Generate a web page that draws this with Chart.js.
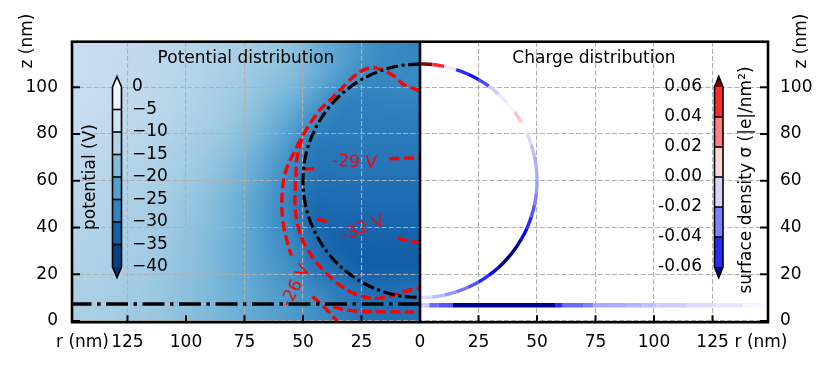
<!DOCTYPE html>
<html lang="en">
<head>
<meta charset="UTF-8">
<title>Potential and charge distribution</title>
<script src="https://cdn.jsdelivr.net/npm/chart.js"></script>
<style>
  body { margin: 0; background: #fff; }
  canvas { display: block; }
</style>
</head>
<body>
<canvas id="chart" width="830" height="369"></canvas>
<script>
// ---------------- data ----------------
// axis ticks (left half of the x axis is r mirrored: x = -r)
const rTicks = [-125, -100, -75, -50, -25, 0, 25, 50, 75, 100, 125];
const zTicks = [0, 20, 40, 60, 80, 100];

// potential map (V), 10 nm cells: columns r = 5..145, rows z = 115 (top) .. 5 (bottom)
const potR = [5, 15, 25, 35, 45, 55, 65, 75, 85, 95, 105, 115, 125, 135, 145];
const potZ = [115, 105, 95, 85, 75, 65, 55, 45, 35, 25, 15, 5];
const potential = [
  [-27.0, -26.0, -24.5, -22.0, -19.5, -16.5, -15.2, -13.9, -13.0, -12.2, -11.4, -10.8, -10.3, -9.9, -9.6],
  [-26.0, -26.5, -25.8, -23.0, -20.0, -17.5, -16.2, -14.7, -13.5, -12.5, -11.6, -11.0, -10.5, -10.0, -9.7],
  [-27.5, -27.5, -27.8, -27.0, -23.0, -19.5, -17.4, -15.5, -14.0, -12.8, -11.9, -11.1, -10.6, -10.1, -9.8],
  [-28.3, -28.3, -28.3, -28.3, -26.3, -22.0, -18.9, -16.5, -14.7, -13.4, -12.3, -11.4, -10.8, -10.4, -10.0],
  [-28.8, -28.8, -28.8, -28.8, -28.8, -24.5, -20.8, -17.9, -15.9, -14.3, -13.1, -12.2, -11.5, -10.9, -10.5],
  [-29.5, -29.5, -29.5, -29.5, -29.5, -26.5, -22.5, -19.2, -16.9, -15.2, -13.9, -12.8, -12.1, -11.5, -11.0],
  [-30.5, -30.5, -30.5, -30.5, -30.5, -27.5, -23.5, -20.2, -17.7, -16.0, -14.5, -13.4, -12.7, -12.1, -11.4],
  [-31.5, -31.5, -31.5, -31.5, -31.5, -27.5, -24.0, -20.7, -18.3, -16.5, -15.1, -14.0, -13.1, -12.5, -11.9],
  [-32.3, -32.3, -32.3, -32.3, -30.0, -26.7, -23.9, -20.9, -18.7, -17.0, -15.5, -14.4, -13.6, -13.0, -12.4],
  [-33.0, -33.0, -33.0, -31.0, -29.5, -25.5, -23.4, -20.9, -18.9, -17.2, -15.9, -14.8, -14.0, -13.3, -12.7],
  [-30.0, -30.5, -30.0, -28.5, -26.5, -24.5, -22.7, -20.6, -18.9, -17.4, -16.2, -15.2, -14.4, -13.6, -13.1],
  [-30.0, -30.0, -29.5, -27.5, -25.0, -23.5, -21.9, -20.2, -18.8, -17.5, -16.3, -15.3, -14.6, -13.9, -13.4]
];

// sphere outline (r, z in nm)
const sphereR = [0, 8.68, 17.1, 25, 32.14, 38.3, 43.3, 46.98, 49.24, 50, 49.24, 46.98, 43.3, 38.3, 32.14, 25, 17.1, 8.68, 0];
const sphereZ = [110, 109.24, 106.98, 103.3, 98.3, 92.14, 85, 77.1, 68.68, 60, 51.32, 42.9, 35, 27.86, 21.7, 16.7, 13.02, 10.76, 10];
const substrateR = [0, 150];
const substrateZ = [7.3, 7.3];

// potential contours (r, z)
const c26aR = [0, 4, 7.3, 10, 13.7, 17, 21, 25, 29, 34, 39, 43, 48.7, 53.4, 57.7, 59, 58.5, 56.5, 55];
const c26aZ = [98.5, 100, 101.3, 104, 106.3, 107.8, 108.3, 107, 104, 99, 94, 90, 81.7, 73, 63, 52, 42, 33, 28];
const c26bR = [46, 42.7, 39, 35.5];
const c26bZ = [10.5, 7.7, 4, 0];
const c29oR = [50.5, 52.5, 53, 53.4, 52, 48.7, 41.4, 31.2, 21.4, 14, 7, 0];
const c29oZ = [78, 70, 62, 50, 40, 31.7, 21.8, 13.3, 9.8, 10.3, 12.5, 14.3];
const c29bR = [37, 32, 25, 15, 0];
const c29bZ = [6, 4.8, 4.2, 3.9, 3.8];
const c29aR = [49.5, 43.5];
const c29aZ = [65, 65.2];
const c29cR = [13, 6, 0];
const c29cZ = [69.4, 69.7, 69.8];
const c32aR = [44, 38.5];
const c32aZ = [43.6, 42.3];
const c32bR = [9.4, 5, 0];
const c32bZ = [35.5, 34.3, 33.5];
const contourLabels = [
  { text: '-29 V', r: 28, z: 67.8, rot: 3 },
  { text: '-32 V', r: 24.4, z: 39.6, rot: -22 },
  { text: '-26 V', r: 53, z: 15, rot: -63 }
];

// surface charge on the sphere (r, z, sigma in |e|/nm^2)
const arcR = [0, 5.23, 10.4, 15.45, 20.34, 25, 29.39, 33.46, 37.16, 40.45, 43.3, 45.68, 47.55, 48.91, 49.73, 50,
  49.73, 48.91, 47.55, 45.68, 43.3, 40.45, 37.16, 33.46, 29.39, 25, 20.34, 15.45, 10.4, 5.23, 0];
const arcZ = [110, 109.73, 108.91, 107.55, 105.68, 103.3, 100.45, 97.16, 93.46, 89.39, 85, 80.34, 75.45, 70.4, 65.23, 60,
  54.77, 49.6, 44.55, 39.66, 35, 30.61, 26.54, 22.84, 19.55, 16.7, 14.32, 12.45, 11.09, 10.27, 10];
const arcSigma = [0.08, 0.07, 0.03, -0.04, -0.06, -0.055, -0.03, 0.005, -0.015, 0.02, 0.008, -0.005, -0.012, -0.018, -0.02, -0.02,
  -0.025, -0.035, -0.045, -0.055, -0.065, -0.07, -0.07, -0.065, -0.055, -0.045, -0.035, -0.03, -0.02, -0.012, -0.005];

// surface charge on the substrate
const stripR = [0, 4, 8, 14, 17, 25, 35, 45, 55, 58, 61, 65, 70, 74, 80, 88, 95, 101, 108, 114, 125, 138, 148];
const stripZ = 6.8;
const stripSigma = [-0.012, -0.035, -0.04, -0.065, -0.07, -0.07, -0.07, -0.07, -0.065, -0.05, -0.035, -0.035, -0.03, -0.02, -0.02,
  -0.018, -0.015, -0.012, -0.012, -0.008, -0.006, -0.002, 0];

// colorbars
const potLevels = [0, -5, -10, -15, -20, -25, -30, -35, -40];
const sigmaLevels = [0.06, 0.04, 0.02, 0.00, -0.02, -0.04, -0.06];

// ---------------- colour maps ----------------
const bluesHex = ['#f7fbff', '#deebf7', '#c6dbef', '#9ecae1', '#6baed6', '#4292c6', '#2171b5', '#08519c', '#08306b'];
const bluesRgb = bluesHex.map(h => [1, 3, 5].map(i => parseInt(h.slice(i, i + 2), 16)));
function bluesAt(t) {
  t = Math.min(1, Math.max(0, t));
  const p = t * 8, i = Math.min(7, Math.floor(p)), f = p - i;
  const a = bluesRgb[i], b = bluesRgb[i + 1];
  return [0, 1, 2].map(k => Math.round(a[k] + (b[k] - a[k]) * f));
}
function sigmaColor(s) {
  if (s > 0.06) return '#8b0000';
  if (s < -0.06) return '#00008b';
  const t = (s + 0.06) / 0.12;
  if (t < 0.5) { const f = Math.round(255 * t / 0.5); return `rgb(${f},${f},255)`; }
  const f = Math.round(255 * (1 - t) / 0.5);
  return `rgb(255,${f},${f})`;
}

// ---------------- datasets ----------------
const toXY = (rs, zs, sign) => rs.map((r, i) => ({ x: sign * r, y: zs[i] }));
function contour(rs, zs) {
  return { data: toXY(rs, zs, -1), borderColor: '#ff0000', borderWidth: 3.4, borderDash: [10, 4.3],
    pointRadius: 0, tension: 0.35, fill: false, borderCapStyle: 'butt' };
}

const datasets = [
  { data: toXY(sphereR, sphereZ, -1), borderColor: '#000', borderWidth: 3.2, borderDash: [12, 3.5, 3, 3.5],
    pointRadius: 0, tension: 0.35, fill: false },
  { data: toXY(substrateR, substrateZ, -1), borderColor: '#000', borderWidth: 3.5, borderDash: [22, 5.5, 3.5, 5.5],
    pointRadius: 0, fill: false, borderCapStyle: 'butt' },
  contour(c26aR, c26aZ), contour(c26bR, c26bZ),
  contour(c29oR, c29oZ), contour(c29bR, c29bZ), contour(c29aR, c29aZ), contour(c29cR, c29cZ),
  contour(c32aR, c32aZ), contour(c32bR, c32bZ),
  { data: toXY(arcR, arcZ, 1), borderWidth: 3.4, pointRadius: 0, tension: 0.3, fill: false, borderCapStyle: 'butt',
    segment: { borderColor: c => sigmaColor((arcSigma[c.p0DataIndex] + arcSigma[c.p1DataIndex]) / 2) } },
  { data: stripR.map(r => ({ x: r, y: stripZ })), borderWidth: 4.5, pointRadius: 0, fill: false, borderCapStyle: 'butt',
    segment: { borderColor: c => sigmaColor(stripSigma[c.p0DataIndex]) } }
];

// ---------------- plugins ----------------
const FONT = '"DejaVu Sans", sans-serif';

const heatmapPlugin = {
  id: 'heatmap',
  beforeDraw(chart) {
    const { ctx, chartArea, scales: { x, y } } = chart;
    const nc = potR.length, nr = potZ.length;
    const off = document.createElement('canvas');
    off.width = nc; off.height = nr;
    const octx = off.getContext('2d');
    const img = octx.createImageData(nc, nr);
    potential.forEach((row, j) => row.forEach((v, i) => {
      const c = bluesAt(-v / 40);
      const k = (j * nc + (nc - 1 - i)) * 4;
      img.data[k] = c[0]; img.data[k + 1] = c[1]; img.data[k + 2] = c[2]; img.data[k + 3] = 255;
    }));
    octx.putImageData(img, 0, 0);
    const left = x.getPixelForValue(-(potR[nc - 1] + 5));
    const right = x.getPixelForValue(0);
    const top = y.getPixelForValue(potZ[0] + 5);
    const bottom = y.getPixelForValue(potZ[nr - 1] - 6);
    ctx.save();
    ctx.beginPath();
    ctx.rect(chartArea.left, chartArea.top, right - chartArea.left, chartArea.bottom - chartArea.top);
    ctx.clip();
    ctx.imageSmoothingEnabled = true;
    ctx.imageSmoothingQuality = 'high';
    ctx.drawImage(off, left, top, right - left, bottom - top);
    ctx.restore();
  }
};

function text(ctx, str, x, y, align, rot, font, color) {
  ctx.save();
  ctx.translate(x, y);
  if (rot) ctx.rotate(rot * Math.PI / 180);
  ctx.font = font || ('17px ' + FONT);
  ctx.fillStyle = color || '#000';
  ctx.textAlign = align || 'center';
  ctx.textBaseline = 'middle';
  ctx.fillText(str, 0, 0);
  ctx.restore();
}

function colorbar(ctx, x0, w, yTop, yBot, colors, overColor, underColor) {
  const n = colors.length, h = (yBot - yTop) / n, tip = 10.5;
  colors.forEach((c, i) => { ctx.fillStyle = c; ctx.fillRect(x0, yTop + i * h, w, h + 0.5); });
  ctx.fillStyle = overColor;
  ctx.beginPath(); ctx.moveTo(x0, yTop); ctx.lineTo(x0 + w / 2, yTop - tip); ctx.lineTo(x0 + w, yTop); ctx.closePath(); ctx.fill();
  ctx.fillStyle = underColor;
  ctx.beginPath(); ctx.moveTo(x0, yBot); ctx.lineTo(x0 + w / 2, yBot + tip); ctx.lineTo(x0 + w, yBot); ctx.closePath(); ctx.fill();
  ctx.strokeStyle = '#000';
  ctx.lineWidth = 1.6;
  for (let i = 1; i < n; i++) {
    ctx.beginPath(); ctx.moveTo(x0, yTop + i * h); ctx.lineTo(x0 + w, yTop + i * h); ctx.stroke();
  }
  ctx.beginPath();
  ctx.moveTo(x0, yTop); ctx.lineTo(x0 + w / 2, yTop - tip); ctx.lineTo(x0 + w, yTop);
  ctx.lineTo(x0 + w, yBot); ctx.lineTo(x0 + w / 2, yBot + tip); ctx.lineTo(x0, yBot);
  ctx.closePath(); ctx.stroke();
}

const overlayPlugin = {
  id: 'overlay',
  afterDatasetsDraw(chart) {
    const { ctx, scales: { x, y } } = chart;
    contourLabels.forEach(l => {
      text(ctx, l.text, x.getPixelForValue(-l.r), y.getPixelForValue(l.z), 'center', l.rot, '17px ' + FONT, '#ff0000');
    });
  },
  afterDraw(chart) {
    const { ctx, chartArea: a, scales: { x, y } } = chart;
    const mid = x.getPixelForValue(0);
    ctx.save();
    // inward ticks
    ctx.strokeStyle = '#000';
    ctx.lineWidth = 2;
    zTicks.forEach(v => {
      const py = y.getPixelForValue(v);
      ctx.beginPath(); ctx.moveTo(a.left, py); ctx.lineTo(a.left + 8, py); ctx.stroke();
      ctx.beginPath(); ctx.moveTo(a.right, py); ctx.lineTo(a.right - 8, py); ctx.stroke();
    });
    rTicks.filter(v => v !== 0).forEach(v => {
      const px = x.getPixelForValue(v);
      ctx.beginPath(); ctx.moveTo(px, a.bottom); ctx.lineTo(px, a.bottom - 7); ctx.stroke();
    });
    // frame
    ctx.lineWidth = 2.6;
    ctx.strokeRect(a.left, a.top, a.right - a.left, a.bottom - a.top);
    ctx.beginPath(); ctx.moveTo(mid, a.top); ctx.lineTo(mid, a.bottom); ctx.stroke();
    ctx.restore();

    // titles and axis names
    text(ctx, 'Potential distribution', (a.left + mid) / 2, 58.5);
    text(ctx, 'Charge distribution', (mid + a.right) / 2, 58.5);
    text(ctx, 'z (nm)', 28, 41, 'center', -90);
    text(ctx, 'z (nm)', 802, 41, 'center', -90);
    text(ctx, 'r (nm)', 82.5, 343);
    text(ctx, 'r (nm)', 761, 343);

    // potential colorbar
    const potColors = potLevels.slice(1).map((v, i) => `rgb(${bluesAt((i + 0.5) / 8)})`);
    colorbar(ctx, 112.5, 9, 87, 267, potColors, `rgb(${bluesAt(0)})`, `rgb(${bluesAt(1)})`);
    potLevels.forEach((v, i) => {
      text(ctx, v === 0 ? '0' : '\u2212' + Math.abs(v), 132, 87 + i * 22.5, 'left');
    });
    text(ctx, 'potential (V)', 91, 177, 'center', -90);

    // surface charge colorbar
    const sigColors = sigmaLevels.slice(1).map((v, i) => sigmaColor((sigmaLevels[i] + v) / 2));
    colorbar(ctx, 714.5, 8.5, 87, 267, sigColors, '#8b0000', '#00008b');
    sigmaLevels.forEach((v, i) => {
      text(ctx, v.toFixed(2), 702, 87 + i * 30, 'right');
    });
    text(ctx, 'surface density \u03c3 (|e|/nm\u00b2)', 747, 180, 'center', -90);
  }
};

// ---------------- chart ----------------
Chart.defaults.font.family = FONT;
Chart.defaults.font.size = 17;
Chart.defaults.color = '#000';

const gridStyle = { color: '#b0b0b0', lineWidth: 1.1, drawTicks: false };

new Chart(document.getElementById('chart'), {
  type: 'line',
  data: { datasets },
  options: {
    responsive: false,
    animation: false,
    layout: { padding: { top: 41.7, left: 0, right: 0, bottom: 0 } },
    plugins: { legend: { display: false }, tooltip: { enabled: false } },
    scales: {
      x: {
        type: 'linear', min: -148.7, max: 148.7,
        afterBuildTicks: s => { s.ticks = rTicks.map(v => ({ value: v })); },
        afterFit: s => { s.height = 46.8; },
        ticks: { autoSkip: false, maxRotation: 0, padding: 10, callback: v => String(Math.abs(v)) },
        grid: gridStyle,
        border: { display: false, dash: [5, 2.2] }
      },
      y: {
        type: 'linear', position: 'left', min: -0.5, max: 119.5,
        afterBuildTicks: s => { s.ticks = zTicks.map(v => ({ value: v })); },
        afterFit: s => { s.width = 72; },
        ticks: { autoSkip: false, padding: 14 },
        grid: gridStyle,
        border: { display: false, dash: [5, 2.2] }
      },
      y2: {
        type: 'linear', position: 'right', min: -0.5, max: 119.5,
        afterBuildTicks: s => { s.ticks = zTicks.map(v => ({ value: v })); },
        afterFit: s => { s.width = 62; },
        ticks: { autoSkip: false, padding: 12 },
        grid: { display: false, drawTicks: false },
        border: { display: false }
      }
    }
  },
  plugins: [heatmapPlugin, overlayPlugin]
});
</script>
</body>
</html>
